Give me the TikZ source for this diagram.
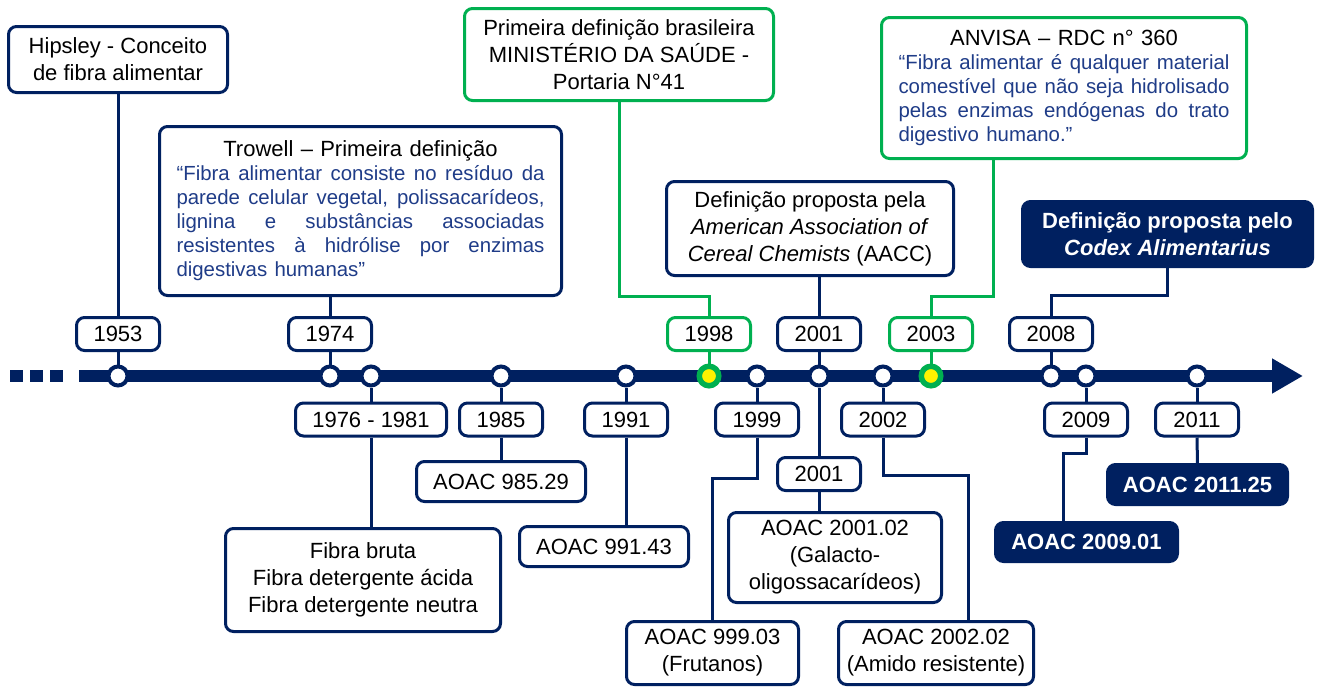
\documentclass[tikz,border=0pt]{standalone}
\usepackage{fontspec}
\setmainfont{Liberation Sans}
\usetikzlibrary{arrows.meta}
\definecolor{navy}{RGB}{0,32,96}
\definecolor{leaf}{RGB}{0,176,80}
\definecolor{quote}{RGB}{31,60,136}
\tikzset{
    box/.style={draw=navy,line width=3pt,rounded corners=8pt,fill=white,
      align=center,inner sep=2pt,font=\fontsize{22}{27}\selectfont},
    gbox/.style={box,draw=leaf},
    dbox/.style={box,fill=navy,text=white,font=\fontsize{22}{27}\selectfont\bfseries},
    yearbox/.style={box,minimum width=83pt,minimum height=33pt},
    gyearbox/.style={yearbox,draw=leaf},
    quotebox/.style={inner xsep=17pt},
    dot/.style={circle,draw=navy,line width=4pt,fill=white,minimum size=19pt,inner sep=0pt},
    gdot/.style={dot,draw=leaf,fill=yellow,line width=5.5pt,minimum size=19.5pt},
    link/.style={draw=navy,line width=3pt},
    glink/.style={link,draw=leaf}
}
\newcommand{\qfull}[1]{\makebox[\linewidth][s]{\spaceskip=.278em plus 1fil\relax #1}}
\newcommand{\qlast}[1]{\makebox[\linewidth][l]{#1}}
\begin{document}
\begin{tikzpicture}[x=1pt,y=-1pt]
    \useasboundingbox (0,0) rectangle (1317,688);
    % time axis
    \coordinate (start) at (79,376);
    \coordinate (tip) at (1303,376);
    \draw[navy,line width=12pt,dash pattern=on 13pt off 7pt] (10,376) -- (63,376);
    \draw[navy,line width=12pt,-{Triangle[length=31pt,width=33pt]}] (start) -- (tip);
    \foreach \yr/\px in {1953/118,1974/330,1976/371,1985/501,1991/626,1999/757,
        2001/819,2002/883,2008/1051,2009/1086,2011/1197}
      \node[dot] (c\yr) at (\px,376) {};
    \node[gdot] (c1998) at (709,376) {};
    \node[gdot] (c2003) at (931,376) {};
    % years above
    \node[yearbox] (y1953) at (118,334) {1953};
    \node[yearbox] (y1974) at (330,334) {1974};
    \node[gyearbox] (y1998) at (709,334) {1998};
    \node[yearbox] (y2001) at (819,334) {2001};
    \node[gyearbox] (y2003) at (931,334) {2003};
    \node[yearbox] (y2008) at (1051,334) {2008};
    % years below
    \node[yearbox,minimum width=151pt] (y1976) at (371,419.5) {1976 - 1981};
    \node[yearbox] (y1985) at (501,419.5) {1985};
    \node[yearbox] (y1991) at (626,419.5) {1991};
    \node[yearbox] (y1999) at (757,419.5) {1999};
    \node[yearbox] (y2002) at (883,419.5) {2002};
    \node[yearbox] (y2009) at (1086,419.5) {2009};
    \node[yearbox] (y2011) at (1197,419.5) {2011};
    \node[yearbox] (y2001b) at (819,474) {2001};
    % definitions
    \node[box,minimum width=219pt,minimum height=66pt] (hipsley) at (118,59.5)
      {Hipsley - Conceito\\de fibra alimentar};
    \node[box,quotebox,text width=368pt,minimum height=169pt] (trowell) at (360.5,211)
      {Trowell – Primeira definição\par
       {\color{quote}\fontsize{20.4}{24}\selectfont
        \qfull{“Fibra alimentar consiste no resíduo da}\\
        \qfull{parede celular vegetal, polissacarídeos,}\\
        \qfull{lignina e substâncias associadas}\\
        \qfull{resistentes à hidrólise por enzimas}\\
        \qlast{digestivas humanas”}\par}};
    \node[gbox,minimum width=309pt,minimum height=92pt] (brasil) at (619,54.5)
      {Primeira definição brasileira\\MINISTÉRIO DA SAÚDE -\\Portaria N°41};
    \node[gbox,quotebox,text width=331pt,minimum height=141pt] (anvisa) at (1064,88)
      {ANVISA – RDC n° 360\par
       {\color{quote}\fontsize{20.4}{24}\selectfont
        \qfull{“Fibra alimentar é qualquer material}\\
        \qfull{comestível que não seja hidrolisado}\\
        \qfull{pelas enzimas endógenas do trato}\\
        \qlast{digestivo humano.”}\par}};
    \node[box,minimum width=287pt,minimum height=94pt] (aacc) at (810,228.5)
      {Definição proposta pela\\\textit{American Association of}\\\textit{Cereal Chemists} (AACC)};
    \node[dbox,minimum width=290pt,minimum height=65pt] (codex) at (1167.5,234)
      {Definição proposta pelo\\\textit{Codex Alimentarius}};
    % methods
    \node[box,minimum width=275pt,minimum height=103pt] (fibra) at (363,580)
      {Fibra bruta\\Fibra detergente ácida\\Fibra detergente neutra};
    \node[box,minimum width=169pt,minimum height=40pt] (a985) at (501,481.5) {AOAC 985.29};
    \node[box,minimum width=169pt,minimum height=40pt] (a991) at (604,546.5) {AOAC 991.43};
    \node[box,minimum width=213pt,minimum height=90pt] (a2001) at (835,557.5)
      {AOAC 2001.02\\(Galacto-\\oligossacarídeos)};
    \node[box,minimum width=172pt,minimum height=63pt] (a999) at (712.5,653)
      {AOAC 999.03\\(Frutanos)};
    \node[box,minimum width=195pt,minimum height=63pt] (a2002) at (936,653)
      {AOAC 2002.02\\(Amido resistente)};
    \node[dbox,minimum width=182pt,minimum height=39pt] (a2009) at (1086.5,542) {AOAC 2009.01};
    \node[dbox,minimum width=180pt,minimum height=40pt] (a2011) at (1197.5,484.5) {AOAC 2011.25};
    % links above
    \draw[link] (y1953) -- (c1953);
    \draw[link] (y1974) -- (c1974);
    \draw[glink] (y1998) -- (c1998);
    \draw[link] (y2001) -- (c2001);
    \draw[glink] (y2003) -- (c2003);
    \draw[link] (y2008) -- (c2008);
    \draw[link] (hipsley) -- (y1953);
    \draw[link] (y1974.north) -- (y1974.north |- trowell.south);
    \draw[glink] (brasil.south) -- ++(0,194) -| (y1998.north);
    \draw[link] (y2001.north) -- (y2001.north |- aacc.south);
    \draw[glink] ([xshift=-71pt]anvisa.south) -- ++(0,136) -| (y2003.north);
    \draw[link] (codex.south) -- ++(0,27) -| (y2008.north);
    % links below
    \draw[link] (c1976) -- (y1976);
    \draw[link] (c1985) -- (y1985);
    \draw[link] (c1991) -- (y1991);
    \draw[link] (c1999) -- (y1999);
    \draw[link] (c2002) -- (y2002);
    \draw[link] (c2009) -- (y2009);
    \draw[link] (c2011) -- (y2011);
    \draw[link] (c2001) -- (y2001b);
    \draw[link] (y1976.south) -- (y1976.south |- fibra.north);
    \draw[link] (y1985) -- (a985);
    \draw[link] (y1991.south) -- (y1991.south |- a991.north);
    \draw[link] (y1999.south) -- ++(0,41) -| (a999.north);
    \draw[link] (y2001b.south) -- (y2001b.south |- a2001.north);
    \draw[link] (y2002.south) -- ++(0,38) -| ([xshift=32pt]a2002.north);
    \draw[link] (y2009.south) -- ++(0,16) -| ([xshift=-23pt]a2009.north);
    \draw[link] (y2011) -- (a2011);
\end{tikzpicture}
\end{document}
